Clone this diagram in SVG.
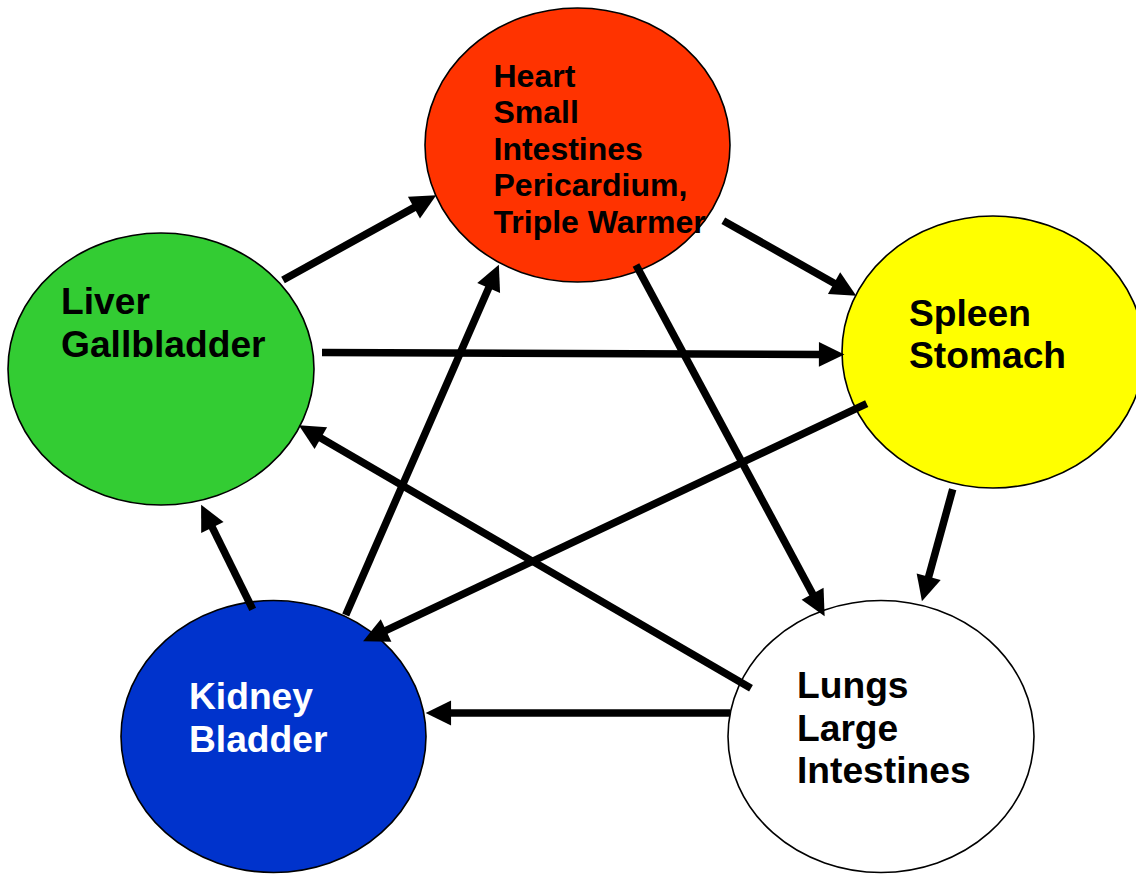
<svg xmlns="http://www.w3.org/2000/svg" width="1136" height="874" viewBox="0 0 1136 874">
<style>
.node{stroke:#000;stroke-width:1.6}
.lbl{font-family:"Liberation Sans",Arial,sans-serif;font-weight:bold;font-size:37.2px;fill:#000}
.small{font-size:32px}
.white{fill:#fff}
.conn{stroke:#000;stroke-width:7.5;fill:none;marker-end:url(#ah)}
</style>
<defs>
<marker id="ah" markerUnits="userSpaceOnUse" markerWidth="26" markerHeight="26" viewBox="0 -12 24 24" refX="1" refY="0" orient="auto" overflow="visible">
<path d="M0,-11.5 L23.5,0 L0,11.5 z" fill="#000"/>
</marker>
</defs>
<rect width="1136" height="874" fill="#fff"/>
<g id="heart">
<ellipse class="node" cx="577.5" cy="145" rx="152.5" ry="137" fill="#FF3300"/>
</g>
<g id="liver">
<ellipse class="node" cx="161" cy="369" rx="153" ry="136" fill="#33CC33"/>
<text class="lbl" x="61" y="314">Liver</text>
<text class="lbl" x="61" y="357">Gallbladder</text>
</g>
<g id="spleen">
<ellipse class="node" cx="993" cy="352" rx="151" ry="136" fill="#FFFF00"/>
<text class="lbl" x="909" y="326">Spleen</text>
<text class="lbl" x="909" y="368">Stomach</text>
</g>
<g id="kidney">
<ellipse class="node" cx="273.5" cy="736.5" rx="152.5" ry="136" fill="#0033CC"/>
<text class="lbl white" x="189" y="709">Kidney</text>
<text class="lbl white" x="189" y="752">Bladder</text>
</g>
<g id="lungs">
<ellipse class="node" cx="881" cy="736.5" rx="153" ry="136" fill="#FFFFFF"/>
<text class="lbl" x="797" y="698">Lungs</text>
<text class="lbl" x="797" y="741">Large</text>
<text class="lbl" x="797" y="783">Intestines</text>
</g>
<g id="connectors">
<line class="conn" x1="283" y1="280" x2="414.9" y2="207.1"/>
<line class="conn" x1="345.7" y1="615" x2="489.1" y2="287.1"/>
<line class="conn" x1="723.3" y1="220.7" x2="835" y2="283.7"/>
<line class="conn" x1="322" y1="352.5" x2="820" y2="354.4"/>
<line class="conn" x1="252.7" y1="609.3" x2="211.9" y2="526.6"/>
<line class="conn" x1="751" y1="688.3" x2="319.9" y2="437.6"/>
<line class="conn" x1="866.7" y1="403.7" x2="385.1" y2="630.9"/>
<line class="conn" x1="636" y1="265" x2="813.1" y2="594.7"/>
<line class="conn" x1="952.7" y1="489.3" x2="928.4" y2="577.8"/>
<line class="conn" x1="730" y1="713" x2="450" y2="713"/>
</g>
<g id="heart-label">
<text class="lbl small" x="493.5" y="87">Heart</text>
<text class="lbl small" x="493.5" y="123">Small</text>
<text class="lbl small" x="493.5" y="159.5">Intestines</text>
<text class="lbl small" x="493.5" y="196">Pericardium,</text>
<text class="lbl small" x="493.5" y="232.5">Triple Warmer</text>
</g>
</svg>
